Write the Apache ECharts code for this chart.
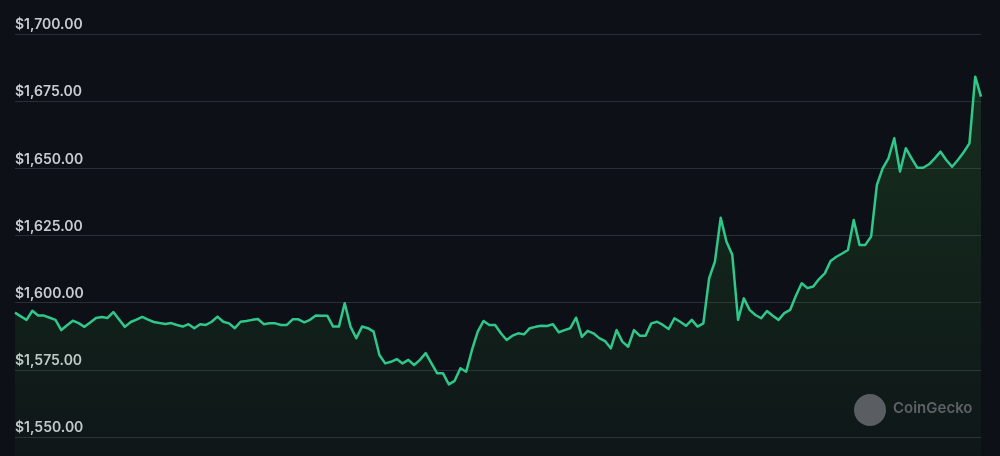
<!DOCTYPE html>
<html>
<head>
<meta charset="utf-8">
<script src="https://cdn.jsdelivr.net/npm/echarts@6/dist/echarts.min.js"></script>
<style>
html,body{margin:0;padding:0;background:#0d1117;}
#chart{width:1000px;height:456px;}
</style>
</head>
<body>
<div id="chart"></div>
<script>
// Hourly index (7 days, 168 points)
const hours = Array.from({length: 168}, (_, i) => i);

// Price values (USD)
const prices = [
  1596.3, 1594.9, 1593.6, 1597.0, 1595.2, 1595.2, 1594.4, 1593.6, 1589.8, 1591.6,
  1593.3, 1592.4, 1591.0, 1592.6, 1594.3, 1594.7, 1594.3, 1596.5, 1593.7, 1591.0,
  1592.8, 1593.7, 1594.7, 1593.7, 1592.8, 1592.4, 1592.1, 1592.4, 1591.7, 1591.1,
  1592.0, 1590.5, 1592.0, 1591.7, 1592.9, 1594.8, 1592.9, 1592.3, 1590.5, 1592.9,
  1593.2, 1593.6, 1593.9, 1592.0, 1592.3, 1592.3, 1591.7, 1591.7, 1593.8, 1593.8,
  1592.7, 1593.6, 1595.2, 1595.1, 1595.1, 1591.1, 1591.1, 1599.8, 1591.1, 1586.8,
  1591.1, 1590.5, 1589.2, 1580.5, 1577.4, 1578.0, 1579.0, 1577.4, 1578.7, 1576.8,
  1578.7, 1581.2, 1577.4, 1573.7, 1573.7, 1569.6, 1570.9, 1575.6, 1574.3, 1582.4,
  1589.2, 1593.2, 1591.7, 1591.7, 1588.6, 1586.1, 1587.7, 1588.6, 1588.2, 1590.5,
  1591.0, 1591.4, 1591.3, 1592.0, 1589.0, 1589.8, 1590.5, 1594.4, 1587.3, 1589.5,
  1588.6, 1586.8, 1585.7, 1583.0, 1589.8, 1585.5, 1583.6, 1589.8, 1587.7, 1587.7,
  1592.3, 1592.9, 1591.7, 1590.2, 1594.2, 1592.9, 1591.4, 1593.6, 1591.1, 1592.3,
  1609.1, 1615.3, 1631.6, 1622.7, 1617.8, 1593.6, 1601.6, 1597.3, 1595.4, 1594.2,
  1596.9, 1595.1, 1593.6, 1596.1, 1597.3, 1602.6, 1607.2, 1605.4, 1606.0, 1608.8,
  1610.9, 1615.5, 1617.1, 1618.3, 1619.6, 1630.8, 1621.5, 1621.5, 1624.6, 1643.8,
  1650.0, 1653.7, 1661.2, 1648.8, 1657.5, 1653.7, 1650.2, 1650.2, 1651.5, 1653.7,
  1656.2, 1653.1, 1650.6, 1653.1, 1656.0, 1659.3, 1684.1, 1676.7
];

// Y-axis ticks
const yMin = 1550;
const yMax = 1700;
const yStep = 25;

const chart = echarts.init(document.getElementById('chart'));
chart.setOption({
  backgroundColor: '#0d1117',
  animation: false,
  grid: { left: 15, right: 19, top: 34, bottom: 19, containLabel: false },
  xAxis: {
    type: 'category',
    data: hours,
    boundaryGap: false,
    show: false
  },
  yAxis: {
    type: 'value',
    min: yMin,
    max: yMax,
    interval: yStep,
    position: 'left',
    axisLine: { show: false },
    axisTick: { show: false },
    splitLine: { show: true, lineStyle: { color: '#2a2e36', width: 1 } },
    axisLabel: {
      inside: true,
      margin: 0,
      verticalAlign: 'bottom',
      padding: [0, 0, 2, 0],
      color: '#c9ccd1',
      fontFamily: 'Inter, "Noto Sans", sans-serif',
      fontSize: 14,
      fontWeight: 600,
      formatter: v => '$' + v.toLocaleString('en-US', { minimumFractionDigits: 2, maximumFractionDigits: 2 })
    }
  },
  graphic: [
    {
      type: 'circle',
      shape: { cx: 870, cy: 410, r: 16 },
      style: { fill: '#5a5e63' },
      z: 10
    },
    {
      type: 'text',
      left: 893,
      top: 401,
      style: {
        text: 'CoinGecko',
        fill: '#5d6167',
        font: '600 15px Inter, "Noto Sans", sans-serif'
      },
      z: 10
    }
  ],
  series: [{
    type: 'line',
    data: prices,
    showSymbol: false,
    clip: false,
    lineStyle: { color: '#2fc78a', width: 2.5, join: 'round' },
    areaStyle: {
      origin: 1543,
      color: new echarts.graphic.LinearGradient(0, 0, 0, 1, [
        { offset: 0, color: 'rgba(60, 175, 55, 0.27)' },
        { offset: 1, color: 'rgba(60, 175, 55, 0.05)' }
      ])
    }
  }]
});
</script>
</body>
</html>
